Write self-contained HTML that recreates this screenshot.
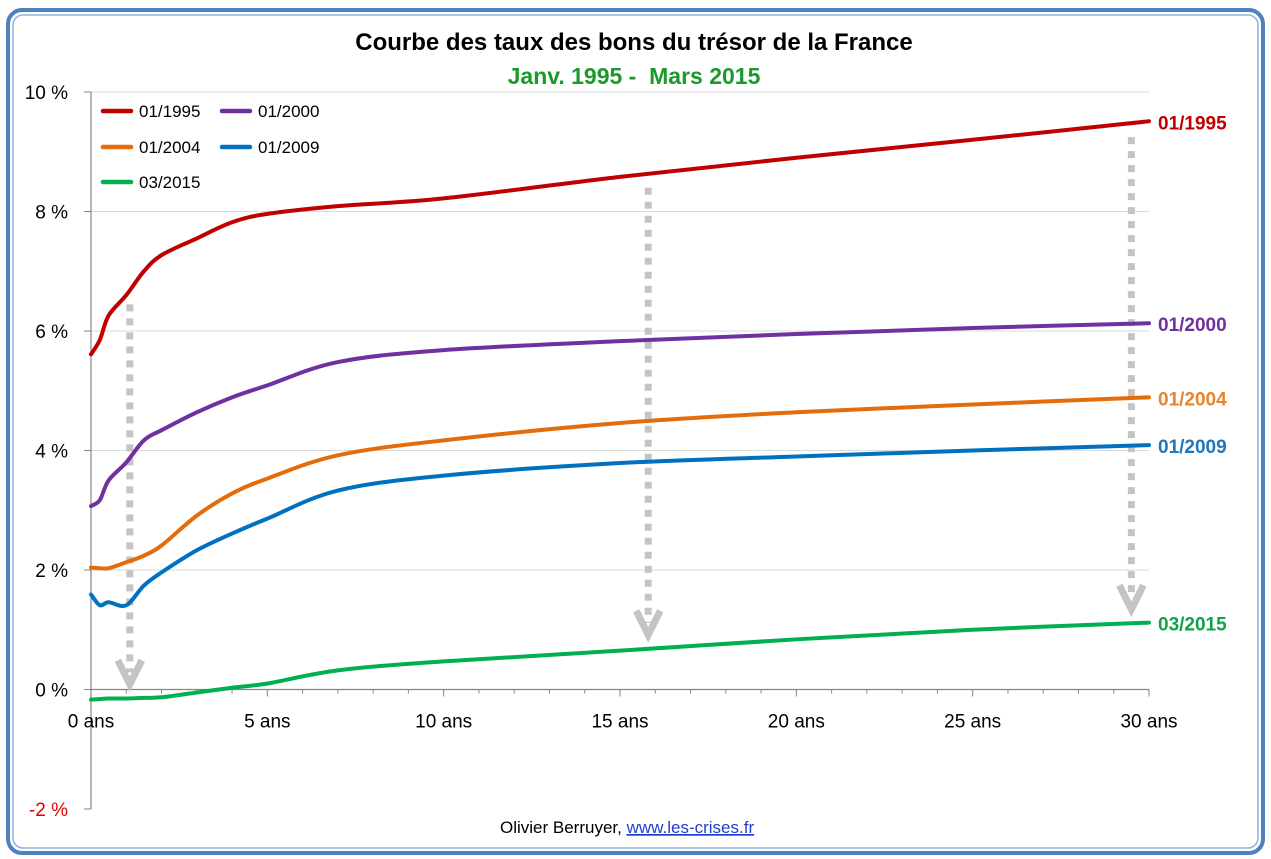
<!DOCTYPE html>
<html><head><meta charset="utf-8"><style>
html,body{margin:0;padding:0;background:#fff;}
svg{display:block;font-family:"Liberation Sans",Arial,sans-serif;}
</style></head><body>
<svg id="chart" width="1271" height="859" viewBox="0 0 1271 859" xmlns="http://www.w3.org/2000/svg">
<rect x="0" y="0" width="1271" height="859" fill="#fff"/>
<rect x="8" y="10" width="1255" height="843" rx="14" fill="none" stroke="#4f81bd" stroke-width="4"/>
<rect x="13" y="15" width="1245" height="833" rx="10" fill="none" stroke="#8db3e2" stroke-width="1.5"/>
<text x="634" y="50" text-anchor="middle" font-size="24" font-weight="bold" fill="#000">Courbe des taux des bons du trésor de la France</text>
<text x="634" y="84" text-anchor="middle" font-size="23" font-weight="bold" fill="#1a9a2a" xml:space="preserve">Janv. 1995 -  Mars 2015</text>
<g id="grid"></g>
<g id="axes"></g>
<g id="arrows"></g>
<g id="series"></g>
<g id="labels"></g>
<g id="legend"></g>
<text x="500" y="833" font-size="17" fill="#000">Olivier Berruyer, <tspan fill="#1f3fd0" text-decoration="underline">www.les-crises.fr</tspan></text>
</svg>
<script>
const yTicks = [-2, 0, 2, 4, 6, 8, 10];
const xMajor = [0, 5, 10, 15, 20, 25, 30];
const seriesNames = ["01/1995", "01/2000", "01/2004", "01/2009", "03/2015"];
const maturities = [0, 0.25, 0.5, 1, 1.5, 2, 3, 4, 5, 7, 10, 15, 20, 25, 30];
const y1995 = [5.61, 5.85, 6.26, 6.6, 7.0, 7.27, 7.55, 7.82, 7.96, 8.09, 8.22, 8.58, 8.9, 9.2, 9.51];
const y2000 = [3.07, 3.17, 3.5, 3.8, 4.17, 4.34, 4.64, 4.89, 5.09, 5.48, 5.68, 5.83, 5.95, 6.05, 6.13];
const y2004 = [2.04, 2.03, 2.03, 2.13, 2.24, 2.41, 2.91, 3.28, 3.53, 3.92, 4.17, 4.46, 4.64, 4.77, 4.89];
const y2009 = [1.59, 1.41, 1.46, 1.41, 1.74, 1.96, 2.33, 2.61, 2.86, 3.33, 3.58, 3.79, 3.9, 4.0, 4.09];
const y2015 = [-0.17, -0.16, -0.15, -0.15, -0.14, -0.13, -0.05, 0.03, 0.1, 0.32, 0.47, 0.65, 0.84, 1.0, 1.12];
const arrowMaturities = [1.1, 15.8, 29.5];

const NS = "http://www.w3.org/2000/svg";
const X0 = 91, X1 = 1149, Y10 = 92, Ym2 = 809;
const xs = v => X0 + (v / 30) * (X1 - X0);
const ys = v => Ym2 - ((v + 2) / 12) * (Ym2 - Y10);
function mk(tag, attrs, parent) { const e = document.createElementNS(NS, tag); for (const k in attrs) e.setAttribute(k, attrs[k]); parent.appendChild(e); return e; }
const colors = ["#c00000", "#7030a0", "#e46c0a", "#0070c0", "#00b050"];
const labelColors = ["#c00000", "#7030a0", "#e8842e", "#1f77bd", "#12a24a"];
const data = [y1995, y2000, y2004, y2009, y2015];

const grid = document.getElementById("grid");
yTicks.forEach(t => {
  if (t !== 0 && t !== -2) {
    const g = mk("line", {x1: X0, x2: X1, y1: ys(t), y2: ys(t), stroke: "#d9d9d9", "stroke-width": 1}, grid);
    
    
  }
  const tk = mk("line", {x1: X0 - 7, x2: X0, y1: ys(t), y2: ys(t), stroke: "#868686", "stroke-width": 1}, grid);
  
  
  const lb = mk("text", {x: 68, y: ys(t) + 7, "text-anchor": "end", "font-size": 19, fill: t < 0 ? "#e00000" : "#000"}, grid);
  lb.textContent = t + " %";
  
  
});
const axes = document.getElementById("axes");
const ya = mk("line", {x1: X0, x2: X0, y1: Y10, y2: Ym2, stroke: "#868686", "stroke-width": 1.2}, axes);


const xa = mk("line", {x1: X0, x2: X1, y1: ys(0), y2: ys(0), stroke: "#868686", "stroke-width": 1.2}, axes);


for (let i = 0; i <= 30; i++) {
  const major = i % 5 === 0;
  const t = mk("line", {x1: xs(i), x2: xs(i), y1: ys(0), y2: ys(0) + (major ? 7 : 4), stroke: "#868686", "stroke-width": 1}, axes);
  
  
}
xMajor.forEach(m => {
  const lb = mk("text", {x: xs(m), y: ys(0) + 38, "text-anchor": "middle", "font-size": 19, fill: "#000"}, axes);
  lb.textContent = m + " ans";
  
  
});

// arrows: from 1995 curve down toward 2015 curve
const arrows = document.getElementById("arrows");
function interp(arr, m) {
  for (let i = 0; i < maturities.length - 1; i++) {
    if (m >= maturities[i] && m <= maturities[i + 1]) {
      const f = (m - maturities[i]) / (maturities[i + 1] - maturities[i]);
      return arr[i] + f * (arr[i + 1] - arr[i]);
    }
  }
  return arr[arr.length - 1];
}
arrowMaturities.forEach(m => {
  const x = xs(m), yTop = ys(interp(y1995, m)) + 14, yEnd = ys(interp(y2015, m)) - 14;
  const l = mk("line", {x1: x, x2: x, y1: yTop, y2: yEnd - 12, stroke: "#c4c4c4", "stroke-width": 7, "stroke-dasharray": "7 7"}, arrows);
  
  
  const h = mk("polyline", {points: `${x-12},${yEnd-24} ${x},${yEnd} ${x+12},${yEnd-24}`, fill: "none", stroke: "#c4c4c4", "stroke-width": 7}, arrows);
  
  
});

const series = document.getElementById("series");
const labels = document.getElementById("labels");
data.forEach((arr, si) => {
  const pts = arr.map((v, i) => [xs(maturities[i]), ys(v)]);
  let d = "M" + pts[0][0] + "," + pts[0][1];
  for (let i = 0; i < pts.length - 1; i++) {
    const p0 = pts[Math.max(i - 1, 0)], p1 = pts[i], p2 = pts[i + 1], p3 = pts[Math.min(i + 2, pts.length - 1)];
    const c1 = [p1[0] + (p2[0] - p0[0]) / 6, p1[1] + (p2[1] - p0[1]) / 6];
    const c2 = [p2[0] - (p3[0] - p1[0]) / 6, p2[1] - (p3[1] - p1[1]) / 6];
    d += ` C${c1[0]},${c1[1]} ${c2[0]},${c2[1]} ${p2[0]},${p2[1]}`;
  }
  const p = mk("path", {d: d, fill: "none", stroke: colors[si], "stroke-width": 4, "stroke-linecap": "round", "stroke-linejoin": "round"}, series);
  
  
  const lb = mk("text", {x: 1158, y: ys(arr[arr.length - 1]) + 8, "font-size": 19, "font-weight": "bold", fill: labelColors[si]}, labels);
  lb.textContent = seriesNames[si];
  
  
});

const legend = document.getElementById("legend");
const legPos = [[103, 111], [222, 111], [103, 147], [222, 147], [103, 182]];
seriesNames.forEach((n, i) => {
  const [x, y] = legPos[i];
  const l = mk("line", {x1: x, x2: x + 28, y1: y, y2: y, stroke: colors[i], "stroke-width": 4.5, "stroke-linecap": "round"}, legend);
  
  
  const t = mk("text", {x: x + 36, y: y + 6, "font-size": 17, fill: "#000"}, legend);
  t.textContent = n;
  
  
});
</script>
</body></html>
